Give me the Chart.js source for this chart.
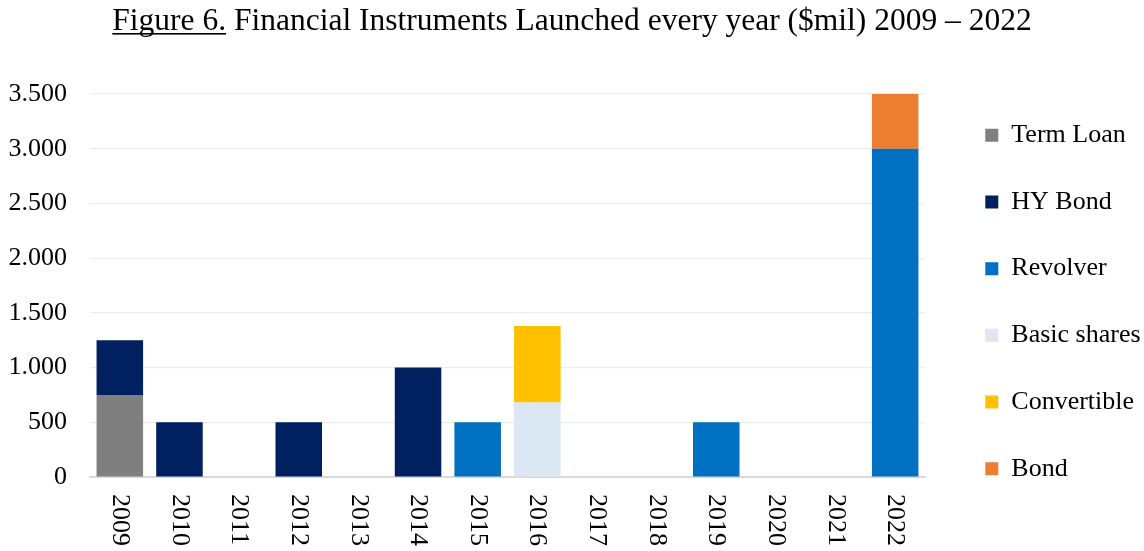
<!DOCTYPE html>
<html>
<head>
<meta charset="utf-8">
<script src="https://cdn.jsdelivr.net/npm/chart.js@4.4.1/dist/chart.umd.min.js"></script>
<style>
  html, body { margin: 0; padding: 0; background: #fff; }
  #wrap { width: 1144px; height: 551px; position: relative; }
</style>
</head>
<body>
<div id="wrap"><canvas id="instrumentsChart"></canvas></div>
<script>
// Chart data
const years = ['2009', '2010', '2011', '2012', '2013', '2014', '2015', '2016', '2017', '2018', '2019', '2020', '2021', '2022'];
const termLoan    = [750, 0, 0, 0, 0, 0, 0, 0, 0, 0, 0, 0, 0, 0];
const hyBond      = [500, 500, 0, 500, 0, 1000, 0, 0, 0, 0, 0, 0, 0, 0];
const revolver    = [0, 0, 0, 0, 0, 0, 500, 0, 0, 0, 500, 0, 0, 3000];
const basicShares = [0, 0, 0, 0, 0, 0, 0, 680, 0, 0, 0, 0, 0, 0];
const convertible = [0, 0, 0, 0, 0, 0, 0, 700, 0, 0, 0, 0, 0, 0];
const bond        = [0, 0, 0, 0, 0, 0, 0, 0, 0, 0, 0, 0, 0, 500];
const yTicks = [0, 500, 1000, 1500, 2000, 2500, 3000, 3500];

const titleText = 'Figure 6. Financial Instruments Launched every year ($mil) 2009 – 2022';
const underlinedPart = 'Figure 6.';
const SERIF = '"Liberation Serif", "Times New Roman", serif';

// 3.500 style thousands separator
function fmt(v) {
    return String(v).replace(/\B(?=(\d{3})+(?!\d))/g, '.');
}

// Underline "Figure 6." in the title
const titleUnderline = {
    id: 'titleUnderline',
    afterDraw(chart) {
        const tb = chart.titleBlock;
        if (!tb) return;
        const ctx = chart.ctx;
        ctx.save();
        ctx.font = '31.5px ' + SERIF;
        const full = ctx.measureText(titleText).width;
        const part = ctx.measureText(underlinedPart).width;
        const x0 = (tb.left + tb.right) / 2 - full / 2;
        ctx.fillStyle = '#000';
        ctx.fillRect(x0, 33, part, 1.6);
        ctx.restore();
    }
};

// Year labels rotated clockwise (read top to bottom)
const yearLabels = {
    id: 'yearLabels',
    afterDraw(chart) {
        const ctx = chart.ctx;
        const x = chart.scales.x;
        ctx.save();
        ctx.font = '26px ' + SERIF;
        ctx.fillStyle = '#000';
        ctx.textAlign = 'left';
        ctx.textBaseline = 'middle';
        x.ticks.forEach((t, i) => {
            ctx.save();
            ctx.translate(x.getPixelForTick(i), x.top + 17);
            ctx.rotate(Math.PI / 2);
            ctx.fillText(chart.data.labels[i], 0, 0);
            ctx.restore();
        });
        ctx.restore();
    }
};

const ctx = document.getElementById('instrumentsChart').getContext('2d');
new Chart(ctx, {
    type: 'bar',
    data: {
        labels: years,
        datasets: [
            { label: 'Term Loan', data: termLoan, backgroundColor: '#7f7f7f' },
            { label: 'HY Bond', data: hyBond, backgroundColor: '#002060' },
            { label: 'Revolver', data: revolver, backgroundColor: '#0070c0' },
            { label: 'Basic shares', data: basicShares, backgroundColor: '#dce7f4' },
            { label: 'Convertible', data: convertible, backgroundColor: '#ffc000' },
            { label: 'Bond', data: bond, backgroundColor: '#ed7d31' }
        ]
    },
    options: {
        responsive: true,
        maintainAspectRatio: false,
        animation: false,
        layout: { padding: { left: 0, right: 0, top: 0, bottom: 0 } },
        datasets: {
            bar: { barPercentage: 0.78, categoryPercentage: 1, borderWidth: 0 }
        },
        plugins: {
            title: {
                display: true,
                text: titleText,
                color: '#000',
                font: { family: SERIF, size: 31.5, weight: 'normal', lineHeight: 1.2 },
                padding: { top: 2.5, bottom: 53.7 }
            },
            legend: {
                position: 'right',
                align: 'center',
                maxWidth: 199.4,
                title: { display: true, text: ' ', font: { size: 26, lineHeight: 2.04 }, padding: 0 },
                labels: {
                    color: '#000',
                    font: { family: SERIF, size: 26 },
                    boxWidth: 13,
                    boxHeight: 13,
                    padding: 40.7
                }
            },
            tooltip: { enabled: false }
        },
        scales: {
            x: {
                stacked: true,
                grid: { display: true, drawOnChartArea: false, drawTicks: false },
                border: { display: true, color: '#d9d9d9', width: 2 },
                ticks: { display: false },
                afterFit(scale) { scale.height = 74; }
            },
            y: {
                stacked: true,
                min: 0,
                max: 3500,
                afterBuildTicks(scale) { scale.ticks = yTicks.map(v => ({ value: v })); },
                grid: {
                    drawTicks: false,
                    lineWidth: 1.2,
                    color: c => (c.tick && c.tick.value === 0) ? 'rgba(0,0,0,0)' : '#ededed'
                },
                border: { display: false },
                ticks: {
                    color: '#000',
                    padding: 23,
                    font: { family: SERIF, size: 26 },
                    callback: v => fmt(v)
                },
                afterFit(scale) { scale.width = 90; }
            },
            gap: {
                type: 'linear',
                axis: 'y',
                position: 'right',
                display: true,
                grid: { display: false },
                border: { display: false },
                ticks: { display: false },
                afterFit(scale) { scale.width = 19.6; }
            }
        }
    },
    plugins: [titleUnderline, yearLabels]
});
</script>
</body>
</html>
